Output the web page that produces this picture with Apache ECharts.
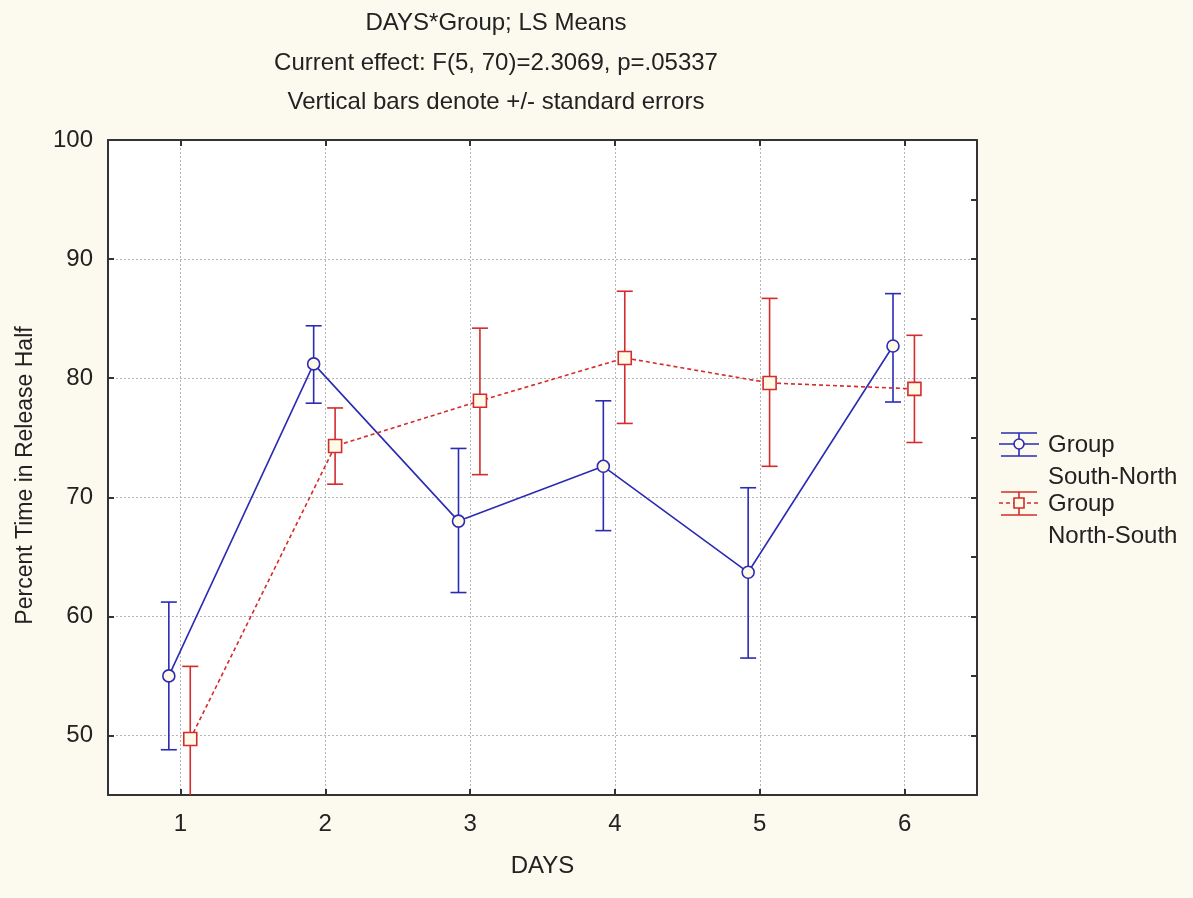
<!DOCTYPE html>
<html>
<head>
<meta charset="utf-8">
<script src="https://cdn.jsdelivr.net/npm/echarts@6/dist/echarts.min.js"></script>
<style>html,body{margin:0;padding:0;background:#fcf9ee;}#chart{width:1193px;height:898px;}</style>
</head>
<body>
<div id="chart"></div>
<script>
// ---- data ----
const days = [1, 2, 3, 4, 5, 6];
const seriesNames = ['Group\nSouth-North', 'Group\nNorth-South'];
const snMean = [55.0, 81.2, 68.0, 72.6, 63.7, 82.7];
const snLow  = [48.8, 77.9, 62.0, 67.2, 56.5, 78.0];
const snHigh = [61.2, 84.4, 74.1, 78.1, 70.8, 87.1];
const nsMean = [49.7, 74.3, 78.1, 81.7, 79.6, 79.1];
const nsLow  = [43.6, 71.1, 71.9, 76.2, 72.6, 74.6];
const nsHigh = [55.8, 77.5, 84.2, 87.3, 86.7, 83.6];
const titleLines = ['DAYS*Group; LS Means', 'Current effect: F(5, 70)=2.3069, p=.05337', 'Vertical bars denote +/- standard errors'];
const xName = 'DAYS';
const yName = 'Percent Time in Release Half';

// ---- style ----
const BLUE = '#2b2bb3';
const RED = '#d42b2b';
const FONT = 'Liberation Sans, Arial, sans-serif';
const TXT = '#222';
const MARKFILL = '#fffbe8';
const FS = 24;
const dodge = [-0.08, 0.068];

const chart = echarts.init(document.getElementById('chart'));

function pts(mean, off) { return days.map((d, i) => [d + off, mean[i]]); }
function bars(low, high, off) { return days.map((d, i) => [d + off, low[i], high[i]]); }

function errRender(color) {
  return function (params, api) {
    const cs = params.coordSys;
    const x = api.coord([api.value(0), 0])[0];
    const yTop = api.coord([0, api.value(2)])[1];
    const yBot = api.coord([0, api.value(1)])[1];
    const minY = cs.y, maxY = cs.y + cs.height;
    const half = 8;
    const style = { stroke: color, lineWidth: 1.6 };
    const children = [];
    const yt = Math.max(yTop, minY), yb = Math.min(yBot, maxY);
    children.push({ type: 'line', shape: { x1: x, y1: yt, x2: x, y2: yb }, style: style });
    if (yTop >= minY) children.push({ type: 'line', shape: { x1: x - half, y1: yTop, x2: x + half, y2: yTop }, style: style });
    if (yBot <= maxY) children.push({ type: 'line', shape: { x1: x - half, y1: yBot, x2: x + half, y2: yBot }, style: style });
    return { type: 'group', children: children };
  };
}

const axisLineStyle = { show: true, lineStyle: { color: '#333', width: 2 } };
const tickStyle = { show: true, inside: true, length: 6, lineStyle: { color: '#333', width: 2 } };
const gridLine = { show: true, lineStyle: { color: '#b5b5b5', type: [2, 2], width: 1 } };

// legend graphic
function legendItem(y, color, dashed, symbol, lines) {
  const cx = 1019;
  const ls = { stroke: color, lineWidth: 1.6 };
  const marker = symbol === 'circle'
    ? { type: 'circle', shape: { cx: cx, cy: y, r: 5 }, style: { fill: MARKFILL, stroke: color, lineWidth: 1.6 } }
    : { type: 'rect', shape: { x: cx - 5, y: y - 5, width: 10, height: 10 }, style: { fill: MARKFILL, stroke: color, lineWidth: 1.6 } };
  return [
    { type: 'line', shape: { x1: 999, y1: y, x2: 1039, y2: y }, style: Object.assign({}, ls, dashed ? { lineDash: [4, 3] } : {}) },
    { type: 'line', shape: { x1: 1001, y1: y - 11, x2: 1037, y2: y - 11 }, style: ls },
    { type: 'line', shape: { x1: 1001, y1: y + 12, x2: 1037, y2: y + 12 }, style: ls },
    { type: 'line', shape: { x1: cx, y1: y - 11, x2: cx, y2: y + 12 }, style: ls },
    marker,
    { type: 'text', x: 1048, y: y - 14.5, style: { text: lines, font: FS + 'px ' + FONT, fill: TXT, lineHeight: 32, verticalAlign: 'top' } }
  ];
}

const option = {
  backgroundColor: '#fcf9ee',
  animation: false,
  title: {
    text: titleLines.join('\n'),
    left: 496,
    top: 4,
    padding: 0,
    textAlign: 'center',
    textStyle: { fontFamily: FONT, fontSize: FS, fontWeight: 'normal', color: TXT, lineHeight: 39.5 }
  },
  grid: { left: 108, right: 216, top: 140, bottom: 103, show: true, backgroundColor: '#ffffff', borderWidth: 0 },
  xAxis: [
    {
      type: 'value', min: 0.5, max: 6.5, splitNumber: 6, position: 'bottom',
      name: xName, nameLocation: 'middle', nameGap: 59,
      nameTextStyle: { fontFamily: FONT, fontSize: FS, color: TXT },
      axisLine: axisLineStyle,
      axisTick: tickStyle,
      axisLabel: { margin: 17, fontFamily: FONT, fontSize: FS, color: TXT, formatter: v => Number.isInteger(v) ? String(v) : '' },
      splitLine: gridLine
    },
    {
      type: 'value', min: 0.5, max: 6.5, splitNumber: 6, position: 'top',
      axisLine: axisLineStyle,
      axisTick: tickStyle,
      axisLabel: { show: false },
      splitLine: { show: false }
    }
  ],
  yAxis: [
    {
      type: 'value', min: 45, max: 100, position: 'left',
      name: yName, nameLocation: 'middle', nameGap: 71,
      nameTextStyle: { fontFamily: FONT, fontSize: 23, color: TXT, padding: [0, 16, 0, 0] },
      axisLine: axisLineStyle,
      axisTick: tickStyle,
      axisLabel: { margin: 15, fontFamily: FONT, fontSize: FS, color: TXT, formatter: v => (v % 10 === 0 ? String(v) : '') },
      splitLine: gridLine
    },
    {
      type: 'value', min: 45, max: 100, interval: 5, position: 'right',
      axisLine: axisLineStyle,
      axisTick: tickStyle,
      axisLabel: { show: false },
      splitLine: { show: false }
    }
  ],
  series: [
    {
      type: 'custom', name: 'South-North SE', xAxisIndex: 0, yAxisIndex: 0, z: 2,
      renderItem: errRender(BLUE), data: bars(snLow, snHigh, dodge[0])
    },
    {
      type: 'custom', name: 'North-South SE', xAxisIndex: 0, yAxisIndex: 0, z: 2,
      renderItem: errRender(RED), data: bars(nsLow, nsHigh, dodge[1])
    },
    {
      type: 'line', name: seriesNames[0], xAxisIndex: 0, yAxisIndex: 0, z: 3,
      data: pts(snMean, dodge[0]),
      symbol: 'circle', symbolSize: 12,
      lineStyle: { color: BLUE, width: 1.6 },
      itemStyle: { color: MARKFILL, borderColor: BLUE, borderWidth: 1.6 }
    },
    {
      type: 'line', name: seriesNames[1], xAxisIndex: 0, yAxisIndex: 0, z: 3,
      data: pts(nsMean, dodge[1]),
      symbol: 'rect', symbolSize: 13,
      lineStyle: { color: RED, width: 1.6, type: [4, 3] },
      itemStyle: { color: MARKFILL, borderColor: RED, borderWidth: 1.6 }
    }
  ],
  graphic: [].concat(
    legendItem(444, BLUE, false, 'circle', seriesNames[0]),
    legendItem(503, RED, true, 'rect', seriesNames[1])
  )
};
chart.setOption(option);
</script>
</body>
</html>
